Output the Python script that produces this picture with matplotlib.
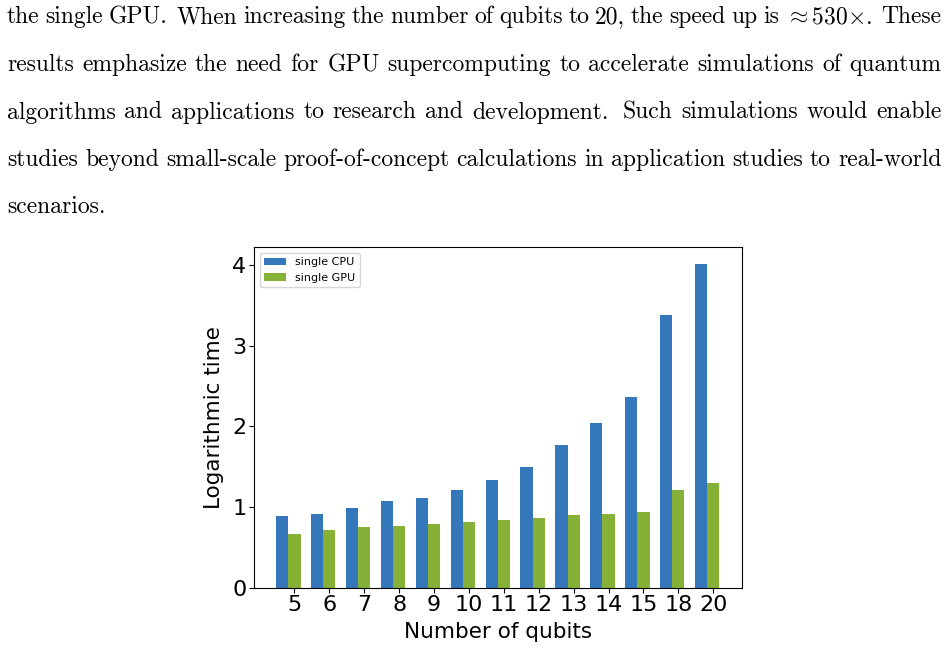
import matplotlib
matplotlib.use("Agg")
import matplotlib.pyplot as plt
import numpy as np

plt.rcParams["mathtext.fontset"] = "cm"

# Paragraph above the figure (justified lines, as in the page)
paragraph = [
    "the single GPU. When increasing the number of qubits to 20, the speed up is $\\approx$530$\\times$. These",
    "results emphasize the need for GPU supercomputing to accelerate simulations of quantum",
    "algorithms and applications to research and development. Such simulations would enable",
    "studies beyond small-scale proof-of-concept calculations in application studies to real-world",
    "scenarios.",
]

# Chart data
qubits = ["5", "6", "7", "8", "9", "10", "11", "12", "13", "14", "15", "18", "20"]
cpu_time = [0.89, 0.92, 0.99, 1.07, 1.11, 1.21, 1.33, 1.50, 1.77, 2.04, 2.36, 3.38, 4.02]
gpu_time = [0.67, 0.71, 0.75, 0.76, 0.79, 0.82, 0.84, 0.87, 0.90, 0.91, 0.94, 1.21, 1.295]
yticks = [0, 1, 2, 3, 4]

W, H = 948, 651
fig = plt.figure(figsize=(W / 100, H / 100), dpi=100)

ax = fig.add_axes([254 / W, 63.3 / H, 487.5 / W, 340.4 / H])
x = np.arange(len(qubits))
width = 0.35
ax.bar(x, cpu_time, width, color="#3477BA", label="single CPU")
ax.bar(x + width, gpu_time, width, color="#85B236", label="single GPU")
ax.set_xticks(x + width)
ax.set_xticklabels(qubits)
ax.set_yticks(yticks)
ax.tick_params(labelsize=16, pad=2)
ax.set_xlabel("Number of qubits", fontsize=15.5, labelpad=5)
ax.set_ylabel("Logarithmic time", fontsize=15.5, labelpad=6)
ax.legend(loc="upper left", fontsize=8)

# lay out the paragraph, stretching word gaps to fill each line
# (gaps after a full stop get more room, as TeX does)
left, right = 7, 941.5
baselines = [23.3, 71, 118.5, 166, 213.5]
fig.canvas.draw()
renderer = fig.canvas.get_renderer()
for line, yb in zip(paragraph, baselines):
    words = line.split()
    texts = [fig.text(0, 1 - yb / H, w, fontsize=17, family="cmr10", va="baseline")
             for w in words]
    widths = [t.get_window_extent(renderer).width for t in texts]
    weights = [1.6 if w.endswith(".") else 1.0 for w in words[:-1]]
    if len(words) > 1:
        unit = (right - left - sum(widths)) / sum(weights)
    else:
        unit = 0
    pos = left
    for i, (t, w) in enumerate(zip(texts, widths)):
        t.set_x(pos / W)
        if i < len(weights):
            pos += w + unit * weights[i]

fig.savefig("out.png", dpi=100)
